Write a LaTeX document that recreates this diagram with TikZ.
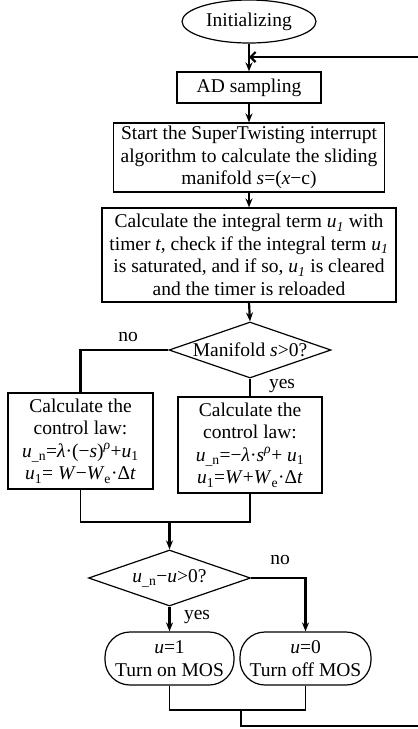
\documentclass[tikz,border=0pt]{standalone}
\usepackage{fontspec}
\setmainfont{Liberation Serif}
\usetikzlibrary{shapes.geometric,arrows.meta}
\begin{document}
\begin{tikzpicture}[x=1pt,y=-1pt,
  every node/.style={font=\fontsize{19.5}{22.5}\selectfont},
  box/.style={draw, line width=1.2pt, align=center, inner sep=0pt},
  term/.style={draw, ellipse, line width=1.2pt, inner sep=0pt, minimum width=134pt, minimum height=43pt},
  dia/.style={draw, diamond, line width=1.2pt, inner sep=0pt, minimum width=162pt, minimum height=56pt},
  pill/.style={draw, rectangle, rounded corners=25pt, line width=1.2pt, align=center, inner sep=0pt, minimum height=53pt},
  thick arrow/.style={line width=2.2pt, -{Stealth[length=9pt,width=7pt]}},
  thickline/.style={line width=2.2pt},
  thinline/.style={line width=1.2pt},
  lbl/.style={inner sep=0pt}
]
\clip (0,0) rectangle (418,729);
\useasboundingbox (0,0) rectangle (418,729);

\node[term] (init) at (249,21.5) {Initializing};
\node[box, minimum width=144pt, minimum height=31pt] (ad) at (249,87.5) {AD sampling};
\node[box, minimum width=271pt, minimum height=69pt] (st) at (249,157.5)
  {Start the SuperTwisting interrupt\\algorithm to calculate the sliding\\manifold \textit{s}=(\textit{x}−c)};
\node[box, minimum width=294pt, minimum height=94pt] (calc) at (249,255)
  {Calculate the integral term \textit{u}\textsubscript{\textit{1}} with\\timer \textit{t}, check if the integral term \textit{u}\textsubscript{\textit{1}}\\is saturated, and if so, \textit{u}\textsubscript{\textit{1}} is cleared\\and the timer is reloaded};
\node[dia] (d1) at (250,350) {};
\node at (d1) {Manifold \textit{s}>0?};
\node[box, minimum width=145pt, minimum height=96pt] (lb) at (80.5,441)
  {Calculate the\\control law:\\\textit{u}\textsubscript{\_n}=\textit{λ}·(−\textit{s})\textsuperscript{\textit{ρ}}+\textit{u}\textsubscript{1}\\\textit{u}\textsubscript{1}= \textit{W}−\textit{W}\textsubscript{e}·Δ\textit{t}};
\node[box, minimum width=144pt, minimum height=96pt] (rb) at (250,445)
  {Calculate the\\control law:\\\textit{u}\textsubscript{\_n}=−\textit{λ}·\textit{s}\textsuperscript{\textit{ρ}}+ \textit{u}\textsubscript{1}\\\textit{u}\textsubscript{1}=\textit{W}+\textit{W}\textsubscript{e}·Δ\textit{t}};
\node[dia] (d2) at (169.5,578) {};
\node at (d2) {\textit{u}\textsubscript{\_n}−\textit{u}>0?};
\node[pill, minimum width=129pt] (r1) at (169.5,658.5) {\textit{u}=1\\Turn on MOS};
\node[pill, minimum width=131pt] (r2) at (305.5,658.5) {\textit{u}=0\\Turn off MOS};

% labels
\node[lbl] (no1) at (128,337) {no};
\node[lbl] (yes1) at (282,386) {yes};
\node[lbl] (no2) at (280,560) {no};
\node[lbl] (yes2) at (197,617) {yes};

% coordinates
\coordinate (fb) at (249,57);
\coordinate (fbr) at (425,57);
\coordinate (m1) at (169.5,522);
\coordinate (m2) at (241,710);
\coordinate (m2b) at (241,726);
\coordinate (m2r) at (425,726);

% main flow
\draw[thick arrow] (init.south) -- (ad.north);
\draw[thick arrow] (ad.south) -- (st.north);
\draw[thick arrow] (st.south) -- (calc.north);
\draw[thick arrow] (calc.south) -- (d1.north);
\draw[thickline] (d1.west) -| (lb.north);
\draw[thickline] (d1.south) -- (rb.north);
\draw[thinline] (lb.south) |- (m1) -| (rb.south);
\draw[thick arrow] (m1) -- (d2.north);
\draw[thick arrow] (d2.south) -- (r1.north);
\draw[thick arrow] (d2.east) -| (r2.north);
\draw[thinline] (r1.south) |- (m2) -| (r2.south);
\draw[thinline] (m2) -- (m2b) -- (m2r) -- (fbr);
\draw[thickline, -{Straight Barb[length=5pt,width=10pt]}] (fbr) -- (fb);
\end{tikzpicture}
\end{document}
